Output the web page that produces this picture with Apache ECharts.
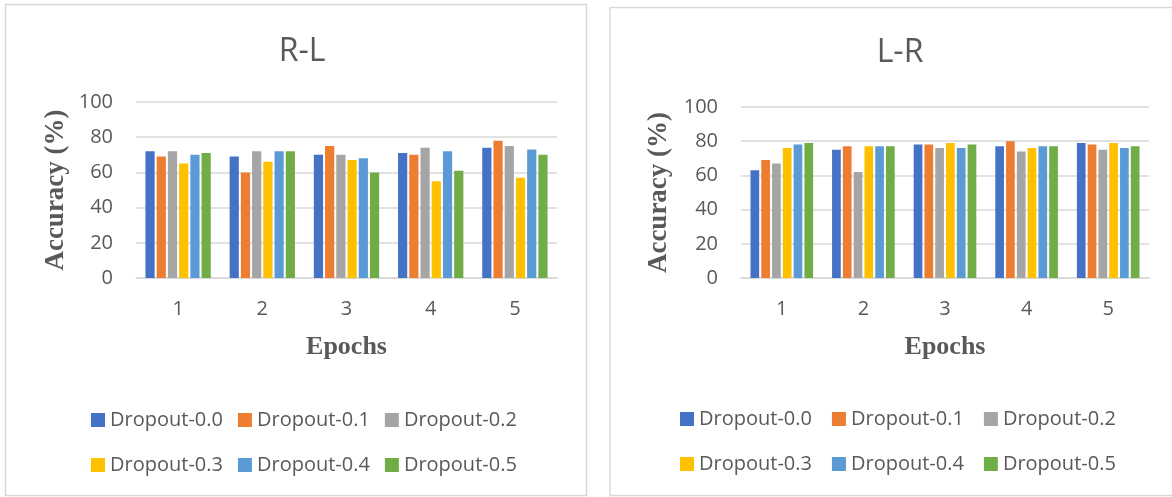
<!DOCTYPE html>
<html>
<head>
<meta charset="utf-8">
<script src="https://cdn.jsdelivr.net/npm/echarts@6/dist/echarts.min.js"></script>
<style>
html,body{margin:0;padding:0;background:#fff;}
#c{width:1172px;height:497px;}
</style>
</head>
<body>
<div id="c"></div>
<script>
const categories = ['1', '2', '3', '4', '5'];
const seriesNames = ['Dropout-0.0', 'Dropout-0.1', 'Dropout-0.2', 'Dropout-0.3', 'Dropout-0.4', 'Dropout-0.5'];
const colors = ['#4472C4', '#ED7D31', '#A5A5A5', '#FFC000', '#5B9BD5', '#70AD47'];

// R-L chart values (per dropout series, across epochs 1..5)
const rl_d00 = [72, 69, 70, 71, 74];
const rl_d01 = [69, 60, 75, 70, 78];
const rl_d02 = [72, 72, 70, 74, 75];
const rl_d03 = [65, 66, 67, 55, 57];
const rl_d04 = [70, 72, 68, 72, 73];
const rl_d05 = [71, 72, 60, 61, 70];

// L-R chart values
const lr_d00 = [63, 75, 78, 77, 79];
const lr_d01 = [69, 77, 78, 80, 78];
const lr_d02 = [67, 62, 76, 74, 75];
const lr_d03 = [76, 77, 79, 76, 79];
const lr_d04 = [78, 77, 76, 77, 76];
const lr_d05 = [79, 77, 78, 77, 77];

const yTicks = [0, 20, 40, 60, 80, 100];

const rlData = [rl_d00, rl_d01, rl_d02, rl_d03, rl_d04, rl_d05];
const lrData = [lr_d00, lr_d01, lr_d02, lr_d03, lr_d04, lr_d05];

const sansFont = '"Open Sans", "Noto Sans", sans-serif';
const serifFont = '"Liberation Serif", "DejaVu Serif", serif';
const textGray = '#595959';
const gridGray = '#D9D9D9';

function makeX(gridIndex) {
  return {
    type: 'category', gridIndex: gridIndex, data: categories,
    axisLine: { show: true, lineStyle: { color: gridGray, width: 1.5 } },
    axisTick: { show: false },
    axisLabel: { color: textGray, fontFamily: sansFont, fontSize: 20, margin: 21 },
    name: 'Epochs', nameLocation: 'middle', nameGap: 56,
    nameTextStyle: { color: textGray, fontFamily: serifFont, fontWeight: 'bold', fontSize: 26 }
  };
}
function makeY(gridIndex, gap) {
  return {
    type: 'value', gridIndex: gridIndex, min: yTicks[0], max: yTicks[yTicks.length - 1], interval: 20,
    axisLine: { show: false }, axisTick: { show: false },
    splitLine: { lineStyle: { color: gridGray, width: 1.5 } },
    axisLabel: { color: textGray, fontFamily: sansFont, fontSize: 20, margin: 23 },
    name: 'Accuracy (%)', nameLocation: 'middle', nameGap: gap, nameRotate: 90,
    nameTextStyle: { color: textGray, fontFamily: serifFont, fontWeight: 'bold', fontSize: 27 }
  };
}

const series = [];
seriesNames.forEach((n, i) => {
  series.push({
    name: n, type: 'bar', xAxisIndex: 0, yAxisIndex: 0, data: rlData[i],
    barWidth: 9.2, barGap: '22%', itemStyle: { color: colors[i] }
  });
});
seriesNames.forEach((n, i) => {
  series.push({
    name: n, type: 'bar', xAxisIndex: 1, yAxisIndex: 1, data: lrData[i],
    barWidth: 8.7, barGap: '24%', itemStyle: { color: colors[i] }
  });
});

const legendBase = {
  orient: 'horizontal', itemWidth: 14, itemHeight: 14, icon: 'rect',
  textStyle: { color: textGray, fontFamily: sansFont, fontSize: 20 },
  selectedMode: false
};

const chart = echarts.init(document.getElementById('c'), null, { renderer: 'canvas' });
chart.setOption({
  backgroundColor: '#fff',
  animation: false,
  color: colors,
  title: [
    { text: 'R-L', left: 297, top: 31, textAlign: 'center',
      textStyle: { color: textGray, fontFamily: sansFont, fontWeight: 'normal', fontSize: 32 } },
    { text: 'L-R', left: 895, top: 32, textAlign: 'center',
      textStyle: { color: textGray, fontFamily: sansFont, fontWeight: 'normal', fontSize: 32 } }
  ],
  graphic: [
    { type: 'rect', shape: { x: 5.5, y: 4.5, width: 581, height: 491 },
      style: { fill: 'none', stroke: gridGray, lineWidth: 1.5 }, silent: true, z: -1 },
    { type: 'rect', shape: { x: 610, y: 7.5, width: 600, height: 488 },
      style: { fill: 'none', stroke: gridGray, lineWidth: 1.5 }, silent: true, z: -1 }
  ],
  legend: [
    Object.assign({}, legendBase, { left: 86, top: 405, itemGap: 15, data: seriesNames.slice(0, 3) }),
    Object.assign({}, legendBase, { left: 86, top: 450, itemGap: 15, data: seriesNames.slice(3, 6) }),
    Object.assign({}, legendBase, { left: 675, top: 404, itemGap: 20, data: seriesNames.slice(0, 3) }),
    Object.assign({}, legendBase, { left: 675, top: 449, itemGap: 20, data: seriesNames.slice(3, 6) })
  ],
  grid: [
    { left: 136, width: 421, top: 102, height: 176 },
    { left: 741, width: 408, top: 107, height: 171 }
  ],
  xAxis: [makeX(0), makeX(1)],
  yAxis: [makeY(0, 66), makeY(1, 68)],
  series: series
});
</script>
</body>
</html>
